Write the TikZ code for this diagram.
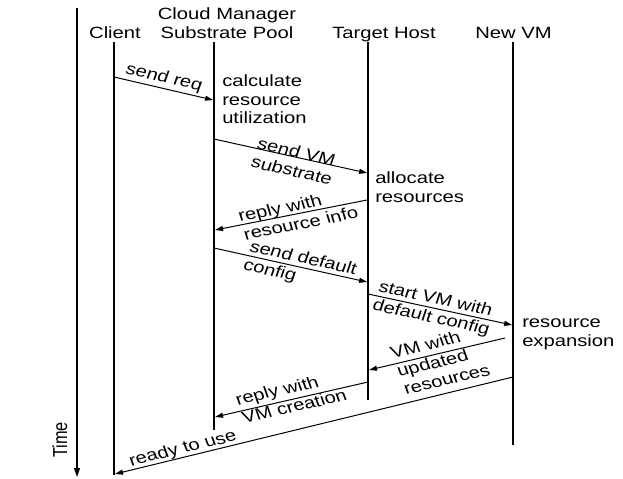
\documentclass[tikz,border=0pt]{standalone}
\usepackage{fontspec}
\setmainfont{Liberation Sans}
\usetikzlibrary{arrows.meta}
\tikzset{
  txt/.style={font=\fontsize{16.3}{19}\selectfont, inner sep=0pt, transform shape, align=left},
  life/.style={line width=1.2pt},
  msg/.style={line width=1pt, -{Triangle[length=8pt,width=5pt]}},
  lbl/.style={txt, anchor=center}
}
\begin{document}
\begin{tikzpicture}[x=0.80645pt, y=-1pt, xscale=1.24]
\useasboundingbox (0,0) rectangle (623,479);
% time axis
\coordinate (t0) at (77,8);
\coordinate (t1) at (77,477);
\draw[life, -{Triangle[length=9pt,width=6pt]}] (t0) -- (t1);
\node[txt, rotate=90] (time) at (60,440) {Time};
% headers
\node[txt, anchor=base] (client) at (115,38) {Client};
\node[txt, anchor=base, align=center] (cm) at (227,38) {Cloud Manager\\Substrate Pool};
\node[txt, anchor=base] (th) at (384,38) {Target Host};
\node[txt, anchor=base] (vm) at (513.5,38) {New VM};
% lifelines
\coordinate (c0) at (114,42); \coordinate (c1) at (114,475);
\coordinate (m0) at (214,42); \coordinate (m1) at (214,430);
\coordinate (h0) at (368,42); \coordinate (h1) at (368,400);
\coordinate (v0) at (513,42); \coordinate (v1) at (513,445);
\draw[life] (c0) -- (c1);
\draw[life] (m0) -- (m1);
\draw[life] (h0) -- (h1);
\draw[life] (v0) -- (v1);
% activity notes
\node[txt, anchor=base west] (calc) at (222,124) {calculate\\resource\\utilization};
\node[txt, anchor=base west] (alloc) at (375,202) {allocate\\resources};
\node[txt, anchor=base west] (exp) at (522,346) {resource\\expansion};
% messages
\coordinate (a1) at (114,77);  \coordinate (b1) at (213,100);
\coordinate (a2) at (214,139); \coordinate (b2) at (367,173);
\coordinate (a3) at (367,200); \coordinate (b3) at (215,230);
\coordinate (a4) at (214,248); \coordinate (b4) at (367,282);
\coordinate (a5) at (368,294); \coordinate (b5) at (512,325);
\coordinate (a6) at (505,338); \coordinate (b6) at (369,370);
\coordinate (a7) at (368,382); \coordinate (b7) at (215,417);
\coordinate (a8) at (513,377); \coordinate (b8) at (115,474);
\draw[msg] (a1) -- (b1);
\draw[msg] (a2) -- (b2);
\draw[msg] (a3) -- (b3);
\draw[msg] (a4) -- (b4);
\draw[msg] (a5) -- (b5);
\draw[msg] (a6) -- (b6);
\draw[msg] (a7) -- (b7);
\draw[msg] (a8) -- (b8);
% labels
\node[lbl, rotate=-15.9] (l1) at (164,78) {send req};
\node[lbl, rotate=-15.4] (l2) at (295,161) {send VM\\substrate};
\node[lbl, rotate=13.7] (l3) at (298,214) {reply with\\resource info};
\node[lbl, rotate=-15.4] (l4) at (300,268) {send default\\config};
\node[lbl, rotate=-14.8] (l5) at (434,309) {start VM with\\default config};
\node[lbl, rotate=16.3] (l6) at (440,361) {VM with\\updated\\resources};
\node[lbl, rotate=15.9] (l7) at (291,397) {reply with\\VM creation};
\node[lbl, rotate=16.9] (l8) at (183,449) {ready to use};
\end{tikzpicture}
\end{document}
